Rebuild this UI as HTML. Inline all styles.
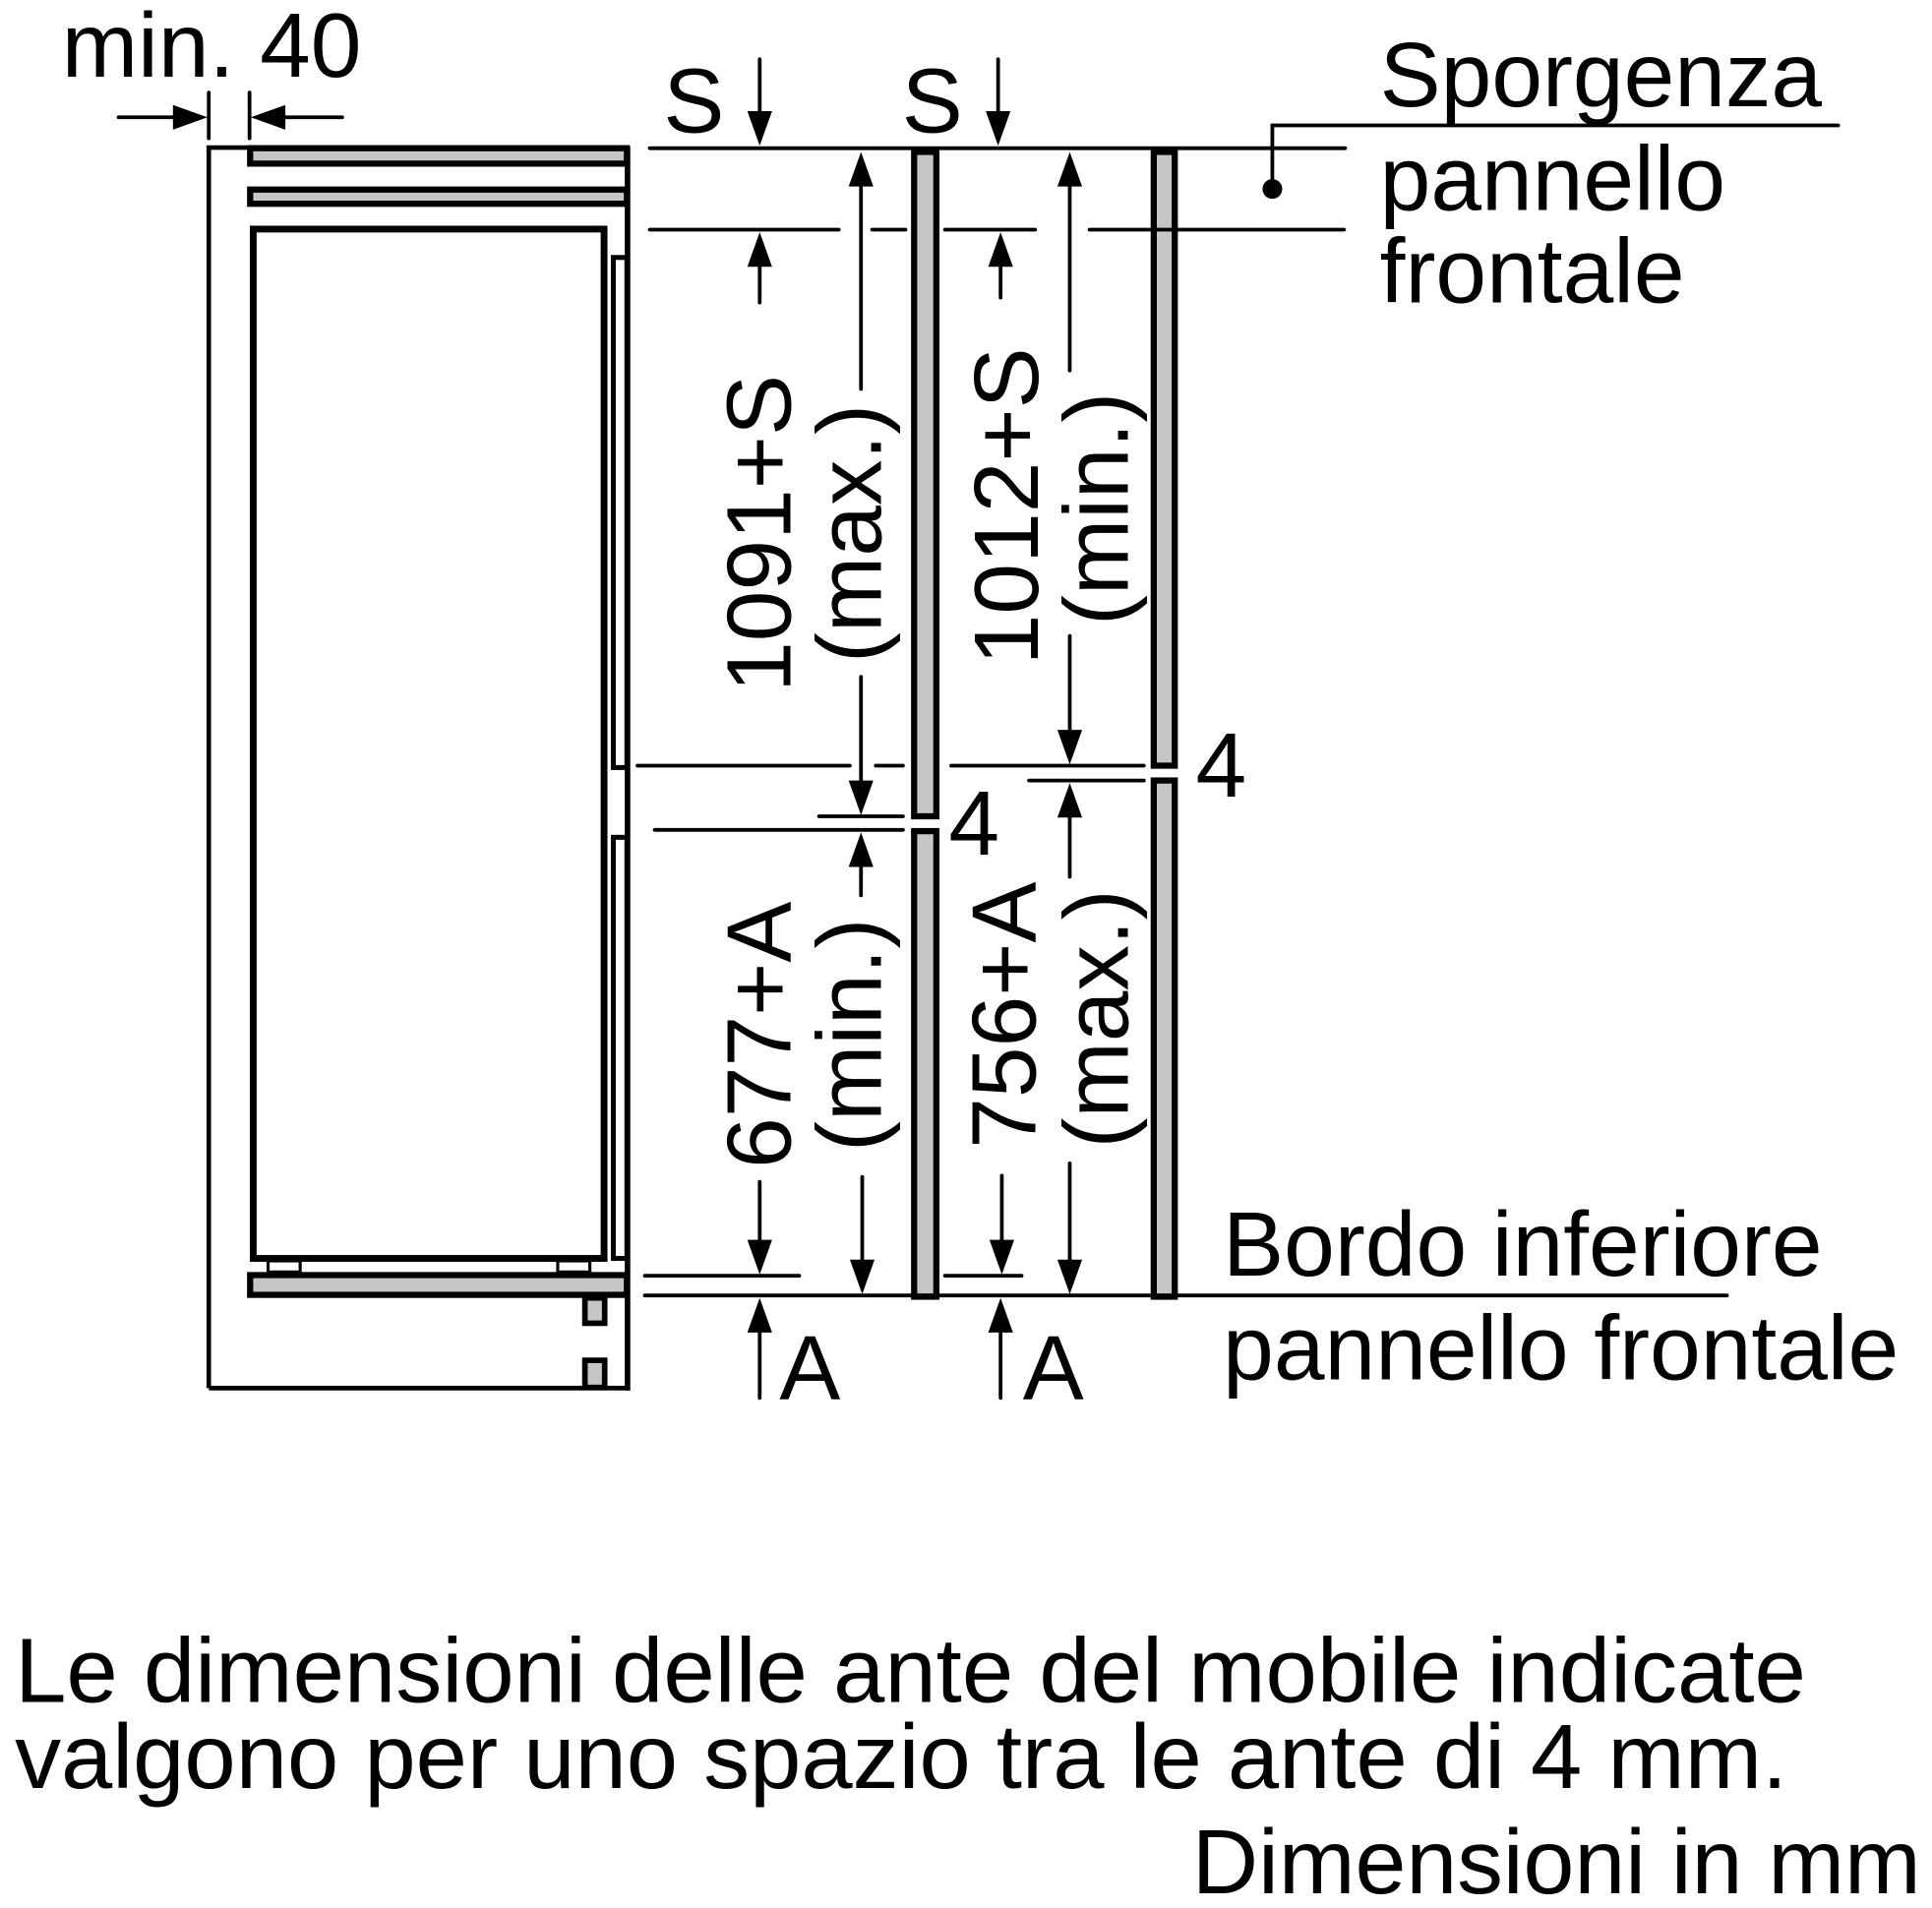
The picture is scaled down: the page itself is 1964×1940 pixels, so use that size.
<!DOCTYPE html>
<html><head><meta charset="utf-8"><style>
html,body{margin:0;padding:0;background:#fff;}
svg{display:block;}
text{font-family:"Liberation Sans",Arial,sans-serif;fill:#000;}
</style></head><body>
<svg width="1964" height="1940" viewBox="0 0 1564 1545" preserveAspectRatio="none" xmlns="http://www.w3.org/2000/svg">
<defs>
<polygon id="dn" points="0,0 -10,-28 10,-28" fill="#000"/>
<polygon id="up" points="0,0 -10,28 10,28" fill="#000"/>
<polygon id="rt" points="0,0 -28,-10 -28,10" fill="#000"/>
<polygon id="lf" points="0,0 28,-10 28,10" fill="#000"/>
</defs>
<g stroke="#000" stroke-width="3" stroke-linecap="round" fill="none">
<!-- cabinet -->
<path d="M169,1124 L169,119.5 L203,119.5" stroke-width="3.7" stroke-linecap="butt"/>
<line x1="169" y1="1124" x2="509" y2="1124" stroke-width="3.7" stroke-linecap="butt"/>
<line x1="508" y1="119" x2="508" y2="1126" stroke-width="4.5" stroke-linecap="butt"/>
<!-- min 40 -->
<line x1="169" y1="75" x2="169" y2="112"/>
<line x1="202" y1="75" x2="202" y2="112"/>
<line x1="96" y1="95" x2="145" y2="95"/>
<line x1="228" y1="95" x2="277" y2="95"/>
</g>
<use href="#rt" x="168" y="95"/>
<use href="#lf" x="203" y="95"/>
<!-- top bars -->
<rect x="202.5" y="120" width="305" height="12.5" fill="#c6c6c6" stroke="#000" stroke-width="5"/>
<rect x="202.5" y="153.5" width="305" height="11.5" fill="#c6c6c6" stroke="#000" stroke-width="5"/>
<!-- inner box -->
<rect x="205" y="185.5" width="284" height="833.5" fill="none" stroke="#000" stroke-width="5.5"/>
<!-- door strips -->
<rect x="496.5" y="208.5" width="11" height="413" fill="#fff" stroke="#000" stroke-width="4"/>
<rect x="496.5" y="678" width="11" height="341" fill="#fff" stroke="#000" stroke-width="4"/>
<!-- feet -->
<rect x="217" y="1021" width="26" height="9" fill="#fff" stroke="#000" stroke-width="2.5"/>
<rect x="451.5" y="1021" width="26" height="9" fill="#fff" stroke="#000" stroke-width="2.5"/>
<!-- bottom bar -->
<rect x="202.5" y="1032.5" width="305" height="16" fill="#c6c6c6" stroke="#000" stroke-width="5"/>
<rect x="473.5" y="1051" width="16" height="20.5" fill="#c6c6c6" stroke="#000" stroke-width="4.5"/>
<rect x="473.5" y="1101.5" width="16" height="22" fill="#c6c6c6" stroke="#000" stroke-width="4.5"/>
<!-- door panels -->
<rect x="740" y="123" width="18" height="538" fill="#c6c6c6" stroke="#000" stroke-width="5"/>
<rect x="740" y="673" width="18" height="377" fill="#c6c6c6" stroke="#000" stroke-width="5"/>
<rect x="934" y="123" width="17" height="497" fill="#c6c6c6" stroke="#000" stroke-width="5"/>
<rect x="934" y="632" width="17" height="418" fill="#c6c6c6" stroke="#000" stroke-width="5"/>
<g stroke="#000" stroke-width="3" stroke-linecap="round" fill="none">
<!-- horizontal dimension lines -->
<line x1="526" y1="120" x2="1089" y2="120"/>
<line x1="526" y1="186" x2="679" y2="186"/>
<line x1="706" y1="186" x2="733" y2="186"/>
<line x1="765" y1="186" x2="838" y2="186"/>
<line x1="882" y1="186" x2="1088" y2="186"/>
<line x1="516" y1="620" x2="688" y2="620"/>
<line x1="709" y1="620" x2="731" y2="620"/>
<line x1="770" y1="620" x2="926" y2="620"/>
<line x1="833" y1="632" x2="926" y2="632"/>
<line x1="663" y1="661" x2="731" y2="661"/>
<line x1="530" y1="672" x2="731" y2="672"/>
<line x1="522" y1="1033" x2="647" y2="1033"/>
<line x1="765" y1="1033" x2="827" y2="1033"/>
<line x1="522" y1="1049" x2="1398" y2="1049"/>
<!-- leader -->
<path d="M1488,101.5 L1030,101.5 L1030,150"/>
<!-- arrow shafts -->
<line x1="615" y1="48" x2="615" y2="95"/>
<line x1="808" y1="48" x2="808" y2="95"/>
<line x1="615" y1="210" x2="615" y2="245"/>
<line x1="810" y1="210" x2="810" y2="241"/>
<line x1="697" y1="150" x2="697" y2="315"/>
<line x1="697" y1="548" x2="697" y2="640"/>
<line x1="866" y1="150" x2="866" y2="300"/>
<line x1="866" y1="515" x2="866" y2="600"/>
<line x1="697" y1="695" x2="697" y2="725"/>
<line x1="866" y1="655" x2="866" y2="710"/>
<line x1="615" y1="957" x2="615" y2="1010"/>
<line x1="698" y1="953" x2="698" y2="1025"/>
<line x1="811" y1="952" x2="811" y2="1010"/>
<line x1="866" y1="942" x2="866" y2="1025"/>
<line x1="615" y1="1075" x2="615" y2="1132"/>
<line x1="810" y1="1075" x2="810" y2="1132"/>
</g>
<circle cx="1030" cy="153" r="8" fill="#000"/>
<!-- arrowheads -->
<use href="#dn" x="615" y="118"/>
<use href="#dn" x="808" y="118"/>
<use href="#up" x="615" y="188"/>
<use href="#up" x="810" y="188"/>
<use href="#up" x="697" y="123"/>
<use href="#up" x="866" y="123"/>
<use href="#dn" x="697" y="660"/>
<use href="#dn" x="866" y="619"/>
<use href="#up" x="697" y="674"/>
<use href="#up" x="866" y="634"/>
<use href="#dn" x="615" y="1032"/>
<use href="#dn" x="811" y="1032"/>
<use href="#dn" x="698" y="1048"/>
<use href="#dn" x="866" y="1048"/>
<use href="#up" x="615" y="1051"/>
<use href="#up" x="810" y="1051"/>
<!-- texts -->
<g font-size="74">
<text x="50" y="62">min. 40</text>
<text x="537" y="107">S</text>
<text x="730" y="107">S</text>
<text x="1117" y="86">Sporgenza</text>
<text x="1117" y="170">pannello</text>
<text x="1117" y="245">frontale</text>
<text x="768" y="692">4</text>
<text x="968" y="645">4</text>
<text x="631" y="1133">A</text>
<text x="828" y="1133">A</text>
<text x="990" y="1033">Bordo inferiore</text>
<text x="990" y="1117">pannello frontale</text>
<text transform="translate(640,432) rotate(-90)" text-anchor="middle">1091+S</text>
<text transform="translate(713,432) rotate(-90)" text-anchor="middle">(max.)</text>
<text transform="translate(840,410) rotate(-90)" text-anchor="middle">1012+S</text>
<text transform="translate(913,412) rotate(-90)" text-anchor="middle">(min.)</text>
<text transform="translate(640,838) rotate(-90)" text-anchor="middle">677+A</text>
<text transform="translate(713,838) rotate(-90)" text-anchor="middle">(min.)</text>
<text transform="translate(838,822) rotate(-90)" text-anchor="middle">756+A</text>
<text transform="translate(913,825) rotate(-90)" text-anchor="middle">(max.)</text>
<text x="12" y="1378" textLength="1450" lengthAdjust="spacingAndGlyphs">Le dimensioni delle ante del mobile indicate</text>
<text x="12" y="1448" textLength="1435" lengthAdjust="spacingAndGlyphs">valgono per uno spazio tra le ante di 4 mm.</text>
<text x="965" y="1533" textLength="590" lengthAdjust="spacingAndGlyphs">Dimensioni in mm</text>
</g>
</svg>
</body></html>
